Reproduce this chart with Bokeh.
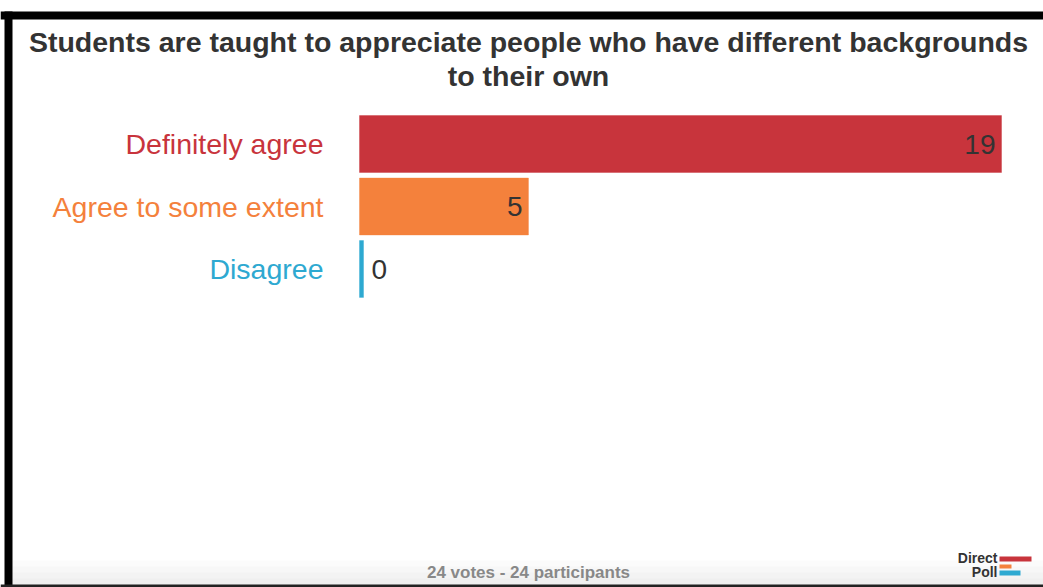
from bokeh.plotting import figure
from bokeh.models import Range1d, Label, ColumnDataSource
from bokeh.core.properties import value
from bokeh.embed import file_html
from bokeh.resources import INLINE

# ---- data ----
title_lines = ["Students are taught to appreciate people who have different backgrounds", "to their own"]
categories = ["Definitely agree", "Agree to some extent", "Disagree"]
votes = [19, 5, 0]
colors = ["#C8343C", "#F4813C", "#2EA9D1"]
footer = "24 votes - 24 participants"

W, H = 1043, 587
FONT = "Liberation Sans"

# pixel geometry -> data ranges
x_zero_px, x_19_px = 359, 1001
ppx = (x_19_px - x_zero_px) / 19.0
first_center_px, band_px = 143.5, 62.5

x_start = -x_zero_px / ppx
x_end = (W - x_zero_px) / ppx
y_top = -first_center_px / band_px
y_bot = (H - first_center_px) / band_px

def dx(px):
    return x_start + px / ppx

def dy(py):
    return y_top + py / band_px

p = figure(width=W, height=H, output_backend="svg", toolbar_location=None,
           x_range=Range1d(x_start, x_end), y_range=Range1d(y_bot, y_top),
           min_border=0, min_border_left=0, min_border_right=0,
           min_border_top=0, min_border_bottom=0)
p.axis.visible = False
p.grid.visible = False
p.outline_line_color = None
p.background_fill_color = "white"
p.border_fill_color = "white"

# subtle bottom shading
for i, c in enumerate(["#fbfbfb", "#f7f7f7", "#f3f3f3", "#efefef"]):
    p.quad(left=dx(12), right=dx(W), top=dy(560 + i * 6), bottom=dy(585),
           fill_color=c, line_color=None)

# black frame
p.quad(left=dx(0), right=dx(W), top=dy(11), bottom=dy(19), fill_color="black", line_color=None)
p.quad(left=dx(4), right=dx(12), top=dy(11), bottom=dy(H), fill_color="black", line_color=None)
p.quad(left=dx(0), right=dx(W), top=dy(584), bottom=dy(H), fill_color="#222222", line_color=None)

# bars
min_w = 4 / ppx
ys = list(range(len(categories)))
src = ColumnDataSource(dict(
    y=ys, right=[max(v, min_w) for v in votes], color=colors, cat=categories,
    txt=[str(v) for v in votes],
))
p.hbar(y="y", left=0, right="right", height=0.91, fill_color="color",
       line_color="color", line_alpha=0.4, source=src)

# category labels
p.text(x=0, y="y", text="cat", text_color="color", x_offset=-36,
       text_align="right", text_baseline="middle", text_font=value(FONT),
       text_font_size="28.5px", source=src)

# value labels
inside = [i for i, v in enumerate(votes) if v > 0]
outside = [i for i, v in enumerate(votes) if v == 0]
p.text(x=[votes[i] for i in inside], y=[ys[i] for i in inside],
       text=[str(votes[i]) for i in inside], x_offset=-6,
       text_align="right", text_baseline="middle", text_color="#333333",
       text_font=value(FONT), text_font_size="28px")
p.text(x=[votes[i] for i in outside], y=[ys[i] for i in outside],
       text=[str(votes[i]) for i in outside], x_offset=12,
       text_align="left", text_baseline="middle", text_color="#333333",
       text_font=value(FONT), text_font_size="28px")

# title
for i, line in enumerate(title_lines):
    p.add_layout(Label(x=dx(528), y=dy(41 + i * 34), text=line, text_align="center",
                       text_baseline="middle", text_font=FONT, text_font_style="bold",
                       text_font_size="28.5px", text_color="#333333"))

# footer
p.add_layout(Label(x=dx(528), y=dy(572), text=footer, text_align="center",
                   text_baseline="middle", text_font=FONT, text_font_style="bold",
                   text_font_size="17px", text_color="#888888"))

# logo
p.add_layout(Label(x=dx(997), y=dy(557), text="Direct", text_align="right",
                   text_baseline="middle", text_font=FONT, text_font_style="bold",
                   text_font_size="14px", text_color="#333333"))
p.add_layout(Label(x=dx(997), y=dy(571), text="Poll", text_align="right",
                   text_baseline="middle", text_font=FONT, text_font_style="bold",
                   text_font_size="14px", text_color="#333333"))
p.quad(left=[dx(999), dx(999), dx(999)], right=[dx(1031), dx(1011), dx(1020)],
       top=[dy(556), dy(564), dy(570)], bottom=[dy(561), dy(568), dy(575)],
       fill_color=colors, line_color=None)

open("out.html", "w").write(file_html(p, INLINE))
